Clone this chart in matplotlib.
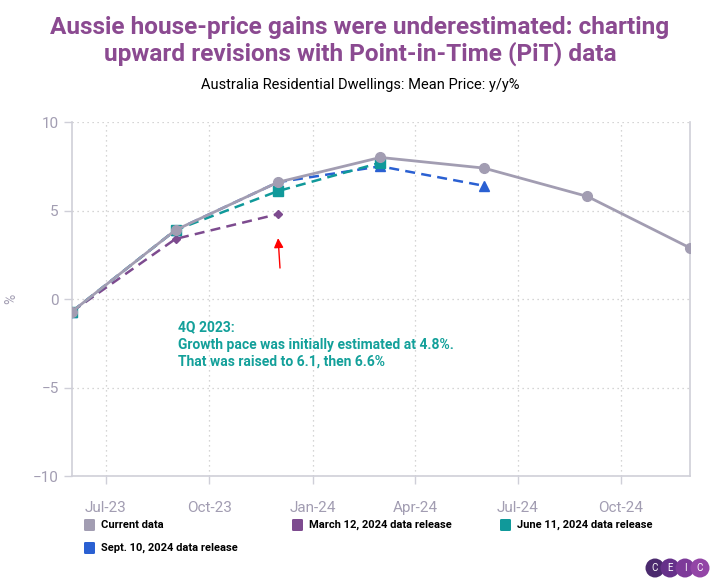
import datetime as dt
import matplotlib
matplotlib.use("Agg")
import matplotlib.pyplot as plt
import matplotlib.dates as mdates
from matplotlib.patches import FancyBboxPatch, Circle

plt.rcParams['font.family'] = ['Roboto', 'DejaVu Sans']

# quarterly points (dated on the 1st of the last quarter month)
dates = [dt.date(2023, 6, 1), dt.date(2023, 9, 1), dt.date(2023, 12, 1),
         dt.date(2024, 3, 1), dt.date(2024, 6, 1), dt.date(2024, 9, 1),
         dt.date(2024, 12, 1)]
current = [-0.7, 3.9, 6.6, 8.0, 7.4, 5.8, 2.9]
mar_2024 = [-0.7, 3.4, 4.8]
jun_2024 = [-0.7, 3.9, 6.1, 7.7]
sep_2024 = [-0.7, 3.9, 6.6, 7.5, 6.4]

series_names = ["Current data", "March 12, 2024 data release",
                "June 11, 2024 data release", "Sept. 10, 2024 data release"]
colors = ["#a29db2", "#7d4b8f", "#10999a", "#2a60d2"]

y_ticks = [-10, -5, 0, 5, 10]
x_ticks = [dt.date(2023, 7, 1), dt.date(2023, 10, 1), dt.date(2024, 1, 1),
           dt.date(2024, 4, 1), dt.date(2024, 7, 1), dt.date(2024, 10, 1)]

note = ("4Q 2023:\nGrowth pace was initially estimated at 4.8%.\n"
        "That was raised to 6.1, then 6.6%")

fig = plt.figure(figsize=(7.2, 5.88), dpi=100)
ax = fig.add_axes([0.1, 0.19, 0.858, 0.6025])

ax.plot(dates[:len(sep_2024)], sep_2024, color=colors[3], lw=1.8, ls=(0, (4, 2.5)),
        marker='^', ms=6.5, zorder=3)
ax.plot(dates[:len(mar_2024)], mar_2024, color=colors[1], lw=1.8, ls=(0, (4, 2.5)),
        marker='D', ms=4.5, zorder=4)
ax.plot(dates[:len(jun_2024)], jun_2024, color=colors[2], lw=1.8, ls=(0, (4, 2.5)),
        marker='s', ms=6.5, zorder=5)
ax.plot(dates, current, color=colors[0], lw=2, marker='o', ms=7, zorder=6)

ax.set_xlim(dates[0], dates[-1])
ax.set_ylim(-10, 10)
ax.set_yticks(y_ticks)
ax.set_xticks(x_ticks)
ax.xaxis.set_major_formatter(mdates.DateFormatter('%b-%y'))

ax.grid(True, color='#c8c8c8', ls=(0, (1, 3)), lw=0.9)
ax.set_axisbelow(True)
for side in ['left', 'bottom', 'right']:
    ax.spines[side].set_color('#cfcfd8')
    ax.spines[side].set_linewidth(1.2)
ax.spines['top'].set_visible(False)
ax.tick_params(axis='both', colors='#cfcfd8', labelcolor='#a29db2',
               labelsize=11, length=6, width=1)
ax.tick_params(axis='x', pad=12)
ax.set_ylabel('%', color='#a29db2', fontsize=10)
ax.yaxis.set_label_coords(-0.087, 0.5)

ax.annotate('', xy=(dt.date(2023, 12, 1), 3.6), xytext=(dt.date(2023, 12, 3), 1.6),
            arrowprops=dict(arrowstyle='-|>', color='red', lw=1,
                            mutation_scale=14))
ax.text(dt.date(2023, 9, 3), -1.2, note, color='#13a09a', fontsize=10,
        fontweight='bold', va='top', ha='left', linespacing=1.3)

fig.text(0.5, 0.930, "Aussie house-price gains were underestimated: charting\n"
         "upward revisions with Point-in-Time (PiT) data",
         ha='center', va='center', color='#8b4a91', fontsize=17.6,
         fontweight='bold', linespacing=1.1)
fig.text(0.5, 0.855, "Australia Residential Dwellings: Mean Price: y/y%",
         ha='center', va='center', color='black', fontsize=10.5)

# legend
legend_pos = [(84, 525), (292, 525), (500, 525), (84, 548)]
for (px, py), name, c in zip(legend_pos, series_names, colors):
    x0 = px / 720
    y0 = 1 - py / 588
    fig.patches.append(FancyBboxPatch((x0, y0 - 6 / 588), 11 / 720, 12 / 588,
                                      boxstyle='round,pad=0,rounding_size=0.002',
                                      transform=fig.transFigure, facecolor=c,
                                      edgecolor='none'))
    fig.text(x0 + 17 / 720, y0, name, fontsize=8, fontweight='bold',
             va='center', ha='left', color='black')

# logo
logo_colors = ['#4b2a6e', '#66318a', '#7d3a99', '#9345a6']
for i, (ch, c) in enumerate(zip('CEIC', logo_colors)):
    cx = 655 + i * 15
    cy = 588 - 568
    fig.patches.append(Circle((cx, cy), 9.5, transform=None,
                              facecolor=c, edgecolor='none'))
    fig.text(cx / 720, cy / 588, ch, color='white', fontsize=7,
             ha='center', va='center')

fig.savefig('out.png', dpi=100)
